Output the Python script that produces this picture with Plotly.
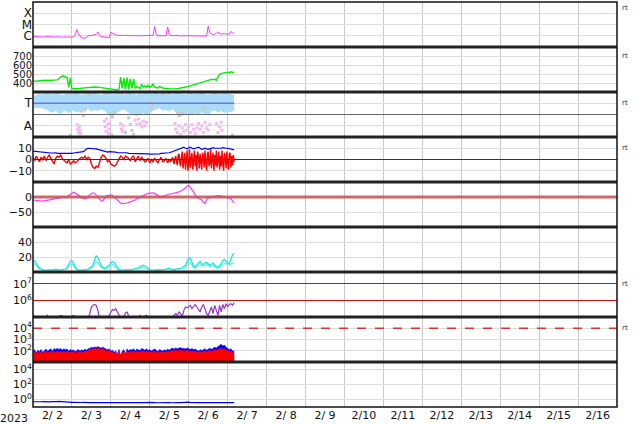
import plotly.graph_objects as go
from datetime import datetime, timedelta

T0 = datetime(2023, 2, 1)

# ---------------- data (hourly from 2023-02-01 00:00 UT) ----------------
xray_1e6 = [0.85, 0.82, 0.80, 0.78, 0.80, 0.75, 0.78, 0.80, 0.82, 0.90,
            0.85, 0.78, 0.75, 0.72, 0.78, 0.80, 0.75, 0.72, 0.75, 0.78,
            0.75, 0.72, 0.75, 0.78, 0.80, 0.78, 1.2, 3.5, 1.5, 0.9,
            0.65, 0.60, 0.62, 0.70, 0.95, 1.0, 1.0, 1.05, 1.1, 1.3,
            2.2, 1.1, 0.85, 0.80, 0.75, 0.72, 0.70, 0.68, 2.0, 1.6,
            1.3, 1.2, 1.1, 1.05, 1.1, 1.0, 1.05, 1.1, 1.0, 1.0,
            1.05, 1.0, 1.0, 0.95, 1.0, 0.98, 1.0, 1.0, 0.95, 1.0,
            0.95, 0.98, 1.0, 1.0, 1.1, 6.5, 1.2, 1.0, 0.98, 1.0,
            1.0, 1.05, 1.0, 6.0, 1.3, 1.05, 1.0, 1.0, 1.1, 1.0,
            1.0, 0.95, 1.0, 1.05, 0.98, 1.0, 1.0, 1.0, 0.95, 1.0,
            0.98, 1.0, 0.95, 0.95, 0.98, 1.0, 1.0, 0.95, 7.0, 1.8,
            1.5, 1.3, 1.4, 1.6, 2.2, 1.5, 1.4, 1.5, 1.6, 1.4,
            1.5, 1.4, 2.5, 1.7, 1.8]

speed = [425, 420, 418, 422, 425, 428, 428, 430, 430, 428,
         430, 430, 432, 430, 432, 435, 450, 470, 478, 475,
         465, 460, 350, 460, 338, 335, 336, 338, 340, 338,
         338, 340, 342, 345, 348, 346, 350, 352, 355, 350,
         356, 352, 350, 348, 346, 345, 342, 340, 335, 330,
         328, 325, 322, 330, 465, 340, 455, 330, 460, 335,
         450, 340, 445, 345, 360, 345, 340, 385, 355, 370,
         350, 375, 352, 360, 390, 355, 350, 345, 360, 350,
         345, 342, 345, 340, 338, 336, 340, 338, 335, 338,
         340, 342, 345, 348, 352, 358, 362, 368, 372, 378,
         382, 388, 395, 400, 410, 415, 420, 425, 430, 435,
         440, 438, 445, 430, 470, 500, 505, 510, 515, 510,
         520, 515, 525, 518, 520]

# sector band (2-hourly): light-blue envelope around "T"
band_top = [1.80, 1.85, 1.90, 1.88, 1.92, 1.90, 1.88, 1.93, 1.90, 1.85,
            1.90, 1.92, 1.88, 1.95, 1.90, 1.86, 1.92, 1.90, 1.88, 1.94,
            1.90, 1.85, 1.92, 1.95, 1.90, 1.88, 1.93, 1.90, 1.86, 1.91,
            1.94, 1.90, 1.87, 1.92, 1.90, 1.95, 1.88, 1.90, 1.93, 1.89,
            1.92, 1.90, 1.94, 1.88, 1.91, 1.95, 1.90, 1.87, 1.93, 1.90,
            1.88, 1.92, 1.95, 1.90, 1.86, 1.91, 1.94, 1.90, 1.88, 1.93,
            1.90, 1.88, 1.85]
band_bot = [1.35, 1.30, 1.32, 1.28, 1.25, 1.15, 1.10, 1.20, 1.05, 1.12,
            1.18, 1.08, 1.20, 1.15, 1.10, 1.25, 1.20, 1.28, 1.15, 1.22,
            1.18, 1.25, 1.20, 1.05, 1.00, 0.98, 1.10, 1.20, 1.25, 1.15,
            1.05, 1.00, 0.95, 1.02, 1.10, 0.98, 1.05, 1.20, 1.25, 1.30,
            1.20, 1.22, 1.15, 1.28, 1.10, 1.00, 0.95, 1.05, 0.98, 1.02,
            1.08, 1.00, 1.12, 1.05, 1.00, 1.15, 1.20, 1.10, 1.18, 1.08,
            1.15, 1.12, 1.20]
pink_h = [27.2, 27.5, 28, 28.5, 29, 29.3, 44, 44.5, 45, 45.5, 46, 46.5, 47, 47.3,
          54, 54.5, 55, 55.5, 63, 64, 65, 66, 67, 68, 69, 70,
          87.5, 88, 89, 90, 91, 92, 93, 94, 95, 96, 97, 98, 99, 100, 101,
          102, 103, 104, 105, 106, 107, 108, 109, 113, 114, 115, 116, 116.5]
pink_v = [0.55, 0.35, 0.2, 0.45, 0.3, 0.15, 0.7, 0.45, 0.25, 0.8, 0.55, 0.15, 0.35, 0.6,
          0.6, 0.35, 0.25, 0.5, 0.75, 0.55, 0.8, 0.6, 0.45, 0.7, 0.5, 0.65,
          0.6, 0.35, 0.2, 0.5, 0.1, 0.4, 0.25, 0.55, 0.3, 0.45, 0.2, 0.55, 0.35, 0.15, 0.4,
          0.6, 0.35, 0.5, 0.2, 0.65, 0.4, 0.3, 0.55, 0.6, 0.2, 0.45, 0.65, 0.3]
gray_h = [23, 30, 31, 32, 35, 48, 48.5, 49, 50, 55, 57, 59, 60, 61, 62, 72, 73, 74,
          80, 89, 90, 92, 105, 123]
gray_v = [0.08, 1.15, 0.95, 1.2, 1.9, 1.0, 0.1, 0.9, 1.1, 1.95, 0.2, 0.85, 0.55, 0.3,
          0.12, 1.6, 1.3, 1.45, 1.9, 1.1, 0.95, 1.05, 1.25, 0.08]

bt = [7.5, 7.3, 7, 7, 6.8, 6.5, 6.5, 6.3, 6, 6,
      6, 5.8, 5.8, 6, 6, 5.5, 5.5, 5.3, 5, 5,
      5, 5, 5.2, 5.5, 5.5, 5.8, 6, 6, 5.8, 6,
      6.5, 7, 8, 9.5, 10, 10, 9.8, 10, 9.8, 9.5,
      9, 8.5, 8, 7.5, 7, 6.5, 6.5, 7, 7, 6.5,
      6.5, 6.5, 6, 6, 6.5, 6.5, 6, 6, 6, 5.5,
      5.5, 5.5, 5.2, 5.5, 5.5, 5.3, 5, 5, 5, 5,
      5, 5, 4.8, 4.8, 5, 5, 5, 5, 5, 5.5,
      5.5, 5.5, 5.8, 6, 6, 6.5, 7, 7.5, 8, 9,
      9.5, 10, 10, 11, 10, 9.5, 10.5, 11, 10, 9.5,
      10, 10.5, 11, 10, 9, 9.5, 10, 9.5, 9, 9.5,
      10, 10.5, 10, 10, 9.5, 9.5, 10, 10.5, 10, 10,
      10, 9.5, 9, 9, 8.5]
# Bz: hourly for 00-85 h, then half-hourly from 86 h (disturbed interval)
bz_early = [2, -1, 3, 1, -2, 2, 0, 3, -1, 2,
            4, 1, -2, -4, 1, 3, 2, 4, 1, -1,
            -2, -3, 0, -4, -3, -1, -3, -2, 0, 1,
            2, 1, 3, 0, 2, 1, -4, -7, -8, -6,
            -7, -3, 2, 4, 3, 1, -2, -1, -4, -5,
            -6, -5, -2, 1, 3, 2, 0, 3, 2, 1,
            -1, 2, 3, -2, 1, 3, -1, 2, 0, -2,
            -1, 1, -3, 0, -2, 1, -1, -3, 0, 2,
            -2, -1, 1, -3, 0, -2]
bz_late = [2, -1, -4, 1, 3, -2, -5, 4, 5, -3, -6, 2, 7, -8, -2, 6, -9, 3, 8, -10,
           -4, 9, -7, 1, 6, -9, -3, 8, -6, 4, -10, 7, 2, -8, 5, -5, -9, 6, 3, -7,
           8, -2, -10, 5, 7, -6, -3, 9, -8, 2, 6, -10, 4, -5, 8, -7, 1, 7, -9, 3,
           -6, 8, -4, -10, 6, 2, -8, 7, -3, -9, 5, 6, -7, 3, -5, 4, -2]

dst = [-10, -11, -12, -12, -13, -13, -14, -13, -12, -12,
       -11, -10, -9, -8, -6, -4, -3, -2, 0, -1,
       -2, 2, 6, 10, 14, 16, 13, 9, 4, 0,
       -2, -4, -6, -3, 2, 8, 12, 14, 12, 6,
       0, -6, -12, -13, -4, 3, 5, 6, 7, 5,
       0, -6, -11, -16, -20, -22, -22, -22, -20, -18,
       -16, -14, -13, -10, -6, -3, 0, 3, 5, 8,
       10, 12, 13, 14, 14, 12, 8, 4, 1, 0,
       2, 5, 8, 10, 10, 10, 11, 13, 15, 16,
       17, 19, 22, 26, 30, 36, 39, 32, 24, 14,
       4, 0, -4, -6, -10, -18, -22, -10, -2, -3,
       -1, 0, 2, 4, 5, 4, 3, 2, 0, -1,
       -2, -4, -6, -12, -20]

cyan_a = [14, 15, 12, 8, 5, 4, 3, 3, 2, 3,
          3, 2, 3, 3, 4, 3, 2, 3, 3, 3,
          4, 6, 10, 14, 15, 12, 7, 4, 3, 2,
          3, 3, 2, 3, 4, 5, 7, 10, 16, 22,
          19, 12, 8, 6, 5, 6, 7, 9, 12, 14, 13, 9, 5, 3, 3, 2, 3, 3, 2, 3,
          3, 3, 4, 4, 5, 6, 7, 8, 9, 8, 6, 4, 3, 3, 2, 3, 3, 2, 3, 3,
          3, 3, 4, 5, 5, 4, 3, 3, 4, 4,
          4, 5, 6, 7, 9, 14, 19, 18, 12, 8,
          7, 9, 12, 14, 11, 10, 12, 13, 11, 9, 10, 12,
          9, 7, 6, 8,
          12, 15, 17, 14, 12, 11,
          16, 23, 25]
cyan_b = [10, 11, 9, 6, 4, 3, 2, 2, 2, 2,
          2, 2, 2, 2, 3, 2, 2, 2, 2, 2,
          3, 4, 7, 10, 11, 9, 5, 3, 2, 2,
          2, 2, 2, 2, 3, 4, 5, 7, 11, 14, 12, 8, 6, 5, 4, 4, 5, 6, 8, 10,
          9, 6, 4, 2, 2, 2, 2, 2, 2, 2,
          2, 2, 3, 3, 3, 4, 5, 5, 6, 5, 4, 3, 2, 2, 2, 2, 2, 2, 2, 2,
          2, 2, 3, 3, 4, 3, 2, 2, 3, 3,
          3, 4, 4, 5, 6, 10, 13, 12, 9, 6,
          5, 7, 9, 10, 8, 8, 9, 10, 8, 7, 8, 9,
          7, 5, 5, 6,
          9, 11, 12, 11, 10, 9,
          11, 12, 11]

electron_1e5 = [1.26, 1.12, 0.79, 0.63, 0.50, 0.50, 0.63, 0.79, 1.12, 1.26,
                0.79, 0.63, 0.50, 0.63, 0.79, 0.89, 1.12, 1.26, 1.20, 0.79,
                0.63, 0.63, 0.50, 0.79, 1.12, 1.26, 1.12, 0.79, 0.63, 0.50,
                0.40, 0.40, 0.50, 0.63, 0.79, 1.58, 3.98, 5.01, 5.62, 5.01,
                2.51, 0.79, 0.50, 0.40, 0.50, 0.63, 0.79, 1.26, 2.00, 2.82,
                2.51, 3.16, 2.00, 1.26, 0.79, 0.63, 1.00, 1.78, 2.00, 1.26,
                0.63, 0.40, 0.50, 0.63, 0.79, 1.12, 1.26, 1.00, 0.63, 1.12,
                1.26, 0.79, 1.12, 0.40, 0.40, 0.50, 0.63, 0.63, 0.50, 0.63,
                0.79, 0.63, 0.50, 0.63, 0.79, 0.79, 1.00, 1.26, 1.58, 1.26,
                2.00, 1.58, 1.00, 2.51, 3.98, 3.55, 3.98, 5.01, 3.16, 3.98,
                5.62, 3.98, 2.51, 2.00, 3.98, 5.62, 3.16, 1.58, 1.26, 2.00,
                3.98, 1.58, 5.01, 2.51, 1.26, 5.01, 2.00, 5.62, 3.16, 6.31,
                3.98, 5.62, 6.31, 5.01, 7.08]

proton_blue = [90, 120, 60, 110, 80, 130, 70, 100, 140, 90,
               110, 150, 80, 160, 120, 170, 130, 160, 110, 150,
               120, 140, 90, 130, 100, 120, 80, 110, 130, 90,
               120, 100, 140, 110, 150, 160, 200, 180, 220, 190,
               230, 200, 170, 210, 160, 140, 120, 150, 90, 110,
               70, 100, 40, 130, 30, 90, 120, 50, 140, 100,
               130, 110, 150, 90, 140, 120, 100, 160, 130, 110,
               150, 100, 130, 90, 120, 140, 110, 80, 130, 100,
               90, 120, 100, 140, 110, 150, 170, 140, 180, 150,
               160, 190, 150, 170, 140, 180, 150, 130, 160, 120,
               140, 110, 90, 130, 100, 120, 150, 110, 140, 170,
               130, 160, 200, 180, 250, 300, 380, 260, 320, 200,
               170, 120, 150, 90, 100]
proton_red = [70, 90, 50, 80, 60, 95, 55, 75, 100, 65,
              80, 90, 60, 95, 70, 100, 75, 90, 65, 85,
              75, 95, 60, 85, 70, 90, 55, 80, 95, 60,
              85, 70, 100, 80, 110, 120, 150, 130, 170, 140,
              180, 150, 130, 160, 120, 100, 90, 110, 70, 85,
              55, 75, 45, 90, 40, 70, 85, 50, 95, 70,
              90, 75, 100, 65, 95, 80, 70, 105, 85, 75,
              100, 70, 90, 65, 85, 95, 75, 60, 90, 70,
              65, 85, 70, 95, 75, 100, 110, 90, 120, 95,
              105, 120, 95, 110, 90, 115, 95, 85, 100, 80,
              95, 75, 65, 90, 70, 85, 100, 75, 95, 110,
              85, 100, 120, 110, 140, 150, 160, 130, 150, 110,
              100, 80, 95, 65, 70]

bottom_blue = [0.50, 0.48, 0.52, 0.50, 0.47, 0.50, 0.53, 0.49, 0.47, 0.50,
               0.48, 0.52, 0.50, 0.47, 0.49, 0.51, 0.55, 0.52, 0.50, 0.48,
               0.46, 0.45, 0.47, 0.44, 0.42, 0.43, 0.41, 0.42, 0.40, 0.41,
               0.40, 0.42, 0.39, 0.40, 0.41, 0.38, 0.40, 0.39, 0.41, 0.40,
               0.38, 0.40, 0.39, 0.37, 0.39, 0.40, 0.38, 0.39, 0.41, 0.38,
               0.40, 0.39, 0.37, 0.38, 0.40, 0.39, 0.41, 0.38, 0.39, 0.40,
               0.37, 0.39, 0.38, 0.40, 0.39, 0.41, 0.38, 0.37, 0.39, 0.40,
               0.38, 0.42, 0.39, 0.38, 0.40, 0.39, 0.37, 0.38, 0.40, 0.39,
               0.41, 0.38, 0.39, 0.40, 0.38, 0.37, 0.39, 0.41, 0.38, 0.40,
               0.39, 0.38, 0.40, 0.42, 0.39, 0.38, 0.45, 0.40, 0.38, 0.39,
               0.40, 0.38, 0.39, 0.37, 0.38, 0.40, 0.39, 0.38, 0.41, 0.39,
               0.38, 0.40, 0.39, 0.37, 0.39, 0.40, 0.38, 0.41, 0.39, 0.38,
               0.40, 0.39, 0.38, 0.40, 0.39]

day_labels = ["2/ 2", "2/ 3", "2/ 4", "2/ 5", "2/ 6", "2/ 7", "2/ 8", "2/ 9",
              "2/10", "2/11", "2/12", "2/13", "2/14", "2/15", "2/16"]

# ---------------- helpers ----------------
def tser(n, step_h=1.0, start_h=0.0):
    return [T0 + timedelta(hours=start_h + i * step_h) for i in range(n)]

def thours(hs):
    return [T0 + timedelta(hours=h) for h in hs]

fig = go.Figure()

def add(x, y, yax, **kw):
    fig.add_trace(go.Scatter(x=x, y=y, xaxis="x", yaxis=yax, mode=kw.pop("mode", "lines"),
                             showlegend=False, hoverinfo="skip", **kw))

# panel 1 X-ray
add(tser(len(xray_1e6)), [v * 1e-6 for v in xray_1e6], "y", line=dict(color="#ff33ff", width=1))
# panel 2 speed
add(tser(len(speed)), speed, "y2", line=dict(color="#00ee00", width=1.4))
# panel 3 sector
tb = tser(len(band_bot), 2.0)
add(tb, band_bot, "y3", line=dict(color="#aadcf8", width=1))
add(tb, band_top, "y3", line=dict(color="#aadcf8", width=1), fill="tonexty", fillcolor="#aadcf8")
add(thours(gray_h), gray_v, "y3", mode="markers", marker=dict(color="#c8c8c8", size=3, symbol="square"))
add(thours(pink_h), pink_v, "y3", mode="markers", marker=dict(color="#f6b8f0", size=3, symbol="square"))
add([T0, T0 + timedelta(hours=len(speed) - 1)], [1.5, 1.5], "y3", line=dict(color="#7070f0", width=1.5))
# panel 4 IMF
bz_t = tser(len(bz_early)) + tser(len(bz_late), 0.5, float(len(bz_early)))
add(bz_t, bz_early + bz_late, "y4", line=dict(color="#ff0000", width=1.4))
add(tser(len(bt)), bt, "y4", line=dict(color="#0000ff", width=1.2))
# panel 5 Dst
add(tser(len(dst)), dst, "y5", line=dict(color="#ff33ff", width=1.2))
# panel 6
add(tser(len(cyan_b)), cyan_b, "y6", line=dict(color="#66eeee", width=1.2))
add(tser(len(cyan_a)), cyan_a, "y6", line=dict(color="#00e8e8", width=1.2))
# panel 7 electrons
add(tser(len(electron_1e5)), [v * 1e5 for v in electron_1e5], "y7", line=dict(color="#9932cc", width=1.2))
# panel 8 protons (filled from panel floor)
tp = tser(len(proton_blue))
add(tp, [1] * len(tp), "y8", line=dict(width=0, color="#0000ff"))
add(tp, proton_blue, "y8", line=dict(width=0.6, color="#0000ff"), fill="tonexty", fillcolor="#0000ff")
tr = tser(len(proton_red))
add(tr, [1] * len(tr), "y8", line=dict(width=0, color="#ff0000"))
add(tr, proton_red, "y8", line=dict(width=0.6, color="#ff0000"), fill="tonexty", fillcolor="#ff0000")
# panel 9
add(tser(len(bottom_blue)), bottom_blue, "y9", line=dict(color="#0000ff", width=1.2))

# ---------------- axes ----------------
GRID = "#dcdcdc"
FONT = dict(family="DejaVu Sans", size=11, color="#111")
SMALL = dict(family="DejaVu Sans", size=10, color="#111")
sup = lambda e: "10<sup>%d</sup>" % e
yspecs = [
    dict(type="log", range=[-7, -3], tickvals=[1e-4, 1e-5, 1e-6], ticktext=["X", "M", "C"], tickfont=dict(family="DejaVu Sans", size=12, color="#111")),
    dict(range=[300, 800], tickvals=[400, 500, 600, 700], ticktext=["400", "500", "600", "700"], tickfont=SMALL),
    dict(range=[0, 2], tickvals=[1.5, 0.5], ticktext=["T", "A"], tickfont=dict(family="DejaVu Sans", size=12, color="#111")),
    dict(range=[-20, 20], tickvals=[10, 0, -10], ticktext=["10", "0", "\u221210"]),
    dict(range=[-100, 50], tickvals=[0, -50], ticktext=["0", "\u221250"]),
    dict(range=[0, 60], tickvals=[20, 40], ticktext=["20", "40"]),
    dict(type="log", range=[5, 7.7], tickvals=[1e6, 1e7], ticktext=[sup(6), sup(7)], gridcolor="#cc1111"),
    dict(type="log", range=[1, 5], tickvals=[1e2, 1e3, 1e4], ticktext=[sup(2), sup(3), sup(4)]),
    dict(type="log", range=[-1, 5], tickvals=[1, 1e2, 1e4], ticktext=[sup(0), sup(2), sup(4)]),
]
layout = dict(
    width=634, height=424, margin=dict(l=33, r=17, t=2, b=17, autoexpand=False),
    paper_bgcolor="white", plot_bgcolor="white", showlegend=False,
)
for i, spec in enumerate(yspecs):
    name = "yaxis" if i == 0 else "yaxis%d" % (i + 1)
    d = dict(domain=[1 - (i + 1) / 9, 1 - i / 9], anchor="x", showgrid=True, gridcolor=GRID,
             gridwidth=1, zeroline=False, showline=False, ticks="", tickfont=FONT,
             tickmode="array", fixedrange=True, automargin=False)
    d.update(spec)
    layout[name] = d

layout["xaxis"] = dict(
    type="date", range=[T0, T0 + timedelta(days=15)], domain=[0, 1], anchor="y9",
    tickmode="array",
    tickvals=[T0 + timedelta(days=k, hours=12) for k in range(len(day_labels))],
    ticktext=day_labels, showgrid=False, zeroline=False, showline=False, ticks="",
    tickfont=FONT, automargin=False, fixedrange=True,
    minor=dict(tick0=T0, dtick=86400000, showgrid=True, gridcolor="#c9c9c9", gridwidth=1, ticks=""),
)
fig.update_layout(**layout)

# ---------------- reference lines / frames ----------------
shapes = []
shapes.append(dict(type="line", xref="paper", x0=0, x1=1, yref="y4", y0=0, y1=0,
                   line=dict(color="#b00000", width=1.2)))
shapes.append(dict(type="line", xref="paper", x0=0, x1=1, yref="y5", y0=0, y1=0,
                   line=dict(color="rgba(200,80,80,0.85)", width=3)))
shapes.append(dict(type="line", xref="paper", x0=0, x1=1, yref="y8", y0=1e4, y1=1e4,
                   line=dict(color="#dd3333", width=1.6, dash="dash")))
shapes.append(dict(type="line", xref="paper", x0=0, x1=1, yref="paper", y0=1 - 2.5 / 9, y1=1 - 2.5 / 9,
                   line=dict(color="#666666", width=1)))
for k in range(1, 9):
    shapes.append(dict(type="line", xref="paper", x0=0, x1=1, yref="paper", y0=k / 9, y1=k / 9,
                       line=dict(color="#222222", width=3)))
shapes.append(dict(type="rect", xref="paper", x0=0, x1=1, yref="paper", y0=0, y1=1,
                   line=dict(color="#111111", width=1.5)))
fig.update_layout(shapes=shapes)

# ---------------- annotations ----------------
ann = [dict(text="2023", xref="paper", yref="paper", x=0, y=0, xanchor="right", yanchor="top",
            xshift=-3, yshift=-3, showarrow=False, font=FONT)]
rt_panels = [(1, -3.5), (2, 700), (3, 1.5), (4, 10), (7, 7), (8, 4)]
for p, yv in rt_panels:
    ann.append(dict(text="rt", xref="paper", x=1, xanchor="left", xshift=3,
                    yref="y" if p == 1 else "y%d" % p, y=yv, yanchor="middle",
                    showarrow=False, font=dict(family="DejaVu Sans", size=7, color="#333")))
fig.update_layout(annotations=ann)

fig.write_html("out.html", config={"displayModeBar": False, "staticPlot": True},
               post_script="document.body.style.margin='0';document.body.style.overflow='hidden';")
